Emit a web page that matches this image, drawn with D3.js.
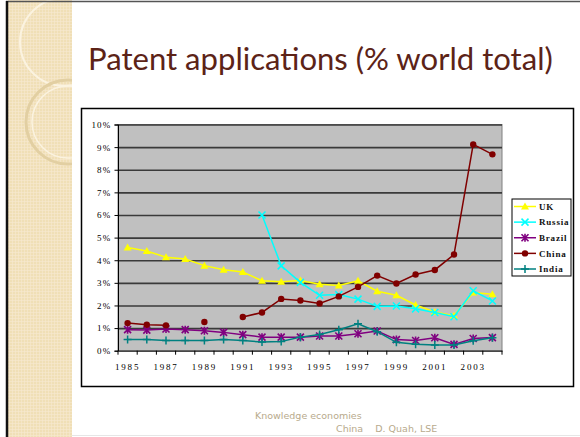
<!DOCTYPE html>
<html>
<head>
<meta charset="utf-8">
<script src="https://cdn.jsdelivr.net/npm/d3@7"></script>
<style>
  body { margin: 0; background: #fff; }
  svg { display: block; }
  .tick text { font-family: "Liberation Serif", "DejaVu Serif", serif; }
</style>
</head>
<body>
<div id="slide"></div>
<script>
// chart data (% of world total)
var years = [1985, 1986, 1987, 1988, 1989, 1990, 1991, 1992, 1993, 1994,
             1995, 1996, 1997, 1998, 1999, 2000, 2001, 2002, 2003, 2004];
var yearLabels = [1985, 1987, 1989, 1991, 1993, 1995, 1997, 1999, 2001, 2003];
var yTicks = [0, 1, 2, 3, 4, 5, 6, 7, 8, 9, 10];

var uk     = [4.56, 4.41, 4.13, 4.05, 3.76, 3.58, 3.48, 3.09, 3.05, 3.10, 2.94, 2.88, 3.09, 2.63, 2.45, 2.02, 1.71, 1.55, 2.57, 2.50];
var russia = [null, null, null, null, null, null, null, 6.00, 3.75, 3.02, 2.45, 2.48, 2.28, 1.96, 1.98, 1.85, 1.69, 1.50, 2.65, 2.20];
var brazil = [0.93, 0.91, 0.96, 0.93, 0.88, 0.81, 0.71, 0.60, 0.60, 0.60, 0.65, 0.65, 0.75, 0.87, 0.49, 0.45, 0.57, 0.28, 0.54, 0.58];
var china  = [1.22, 1.15, 1.12, null, 1.27, null, 1.49, 1.69, 2.29, 2.22, 2.09, 2.40, 2.82, 3.32, 2.97, 3.37, 3.57, 4.25, 9.12, 8.68];
var india  = [0.49, 0.49, 0.45, 0.45, 0.45, 0.49, 0.45, 0.38, 0.41, 0.60, 0.72, 0.93, 1.19, 0.84, 0.37, 0.29, 0.25, 0.25, 0.44, 0.57];

var seriesNames = ["UK", "Russia", "Brazil", "China", "India"];
var seriesValues = [uk, russia, brazil, china, india];

// look of each series
var seriesColor = {UK: "#ffff00", Russia: "#00ffff", Brazil: "#800080", China: "#800000", India: "#008080"};
var seriesShape = {UK: "triangle", Russia: "cross", Brazil: "star", China: "circle", India: "plus"};

var W = 580, H = 437;

var svg = d3.select("#slide")
  .append("svg")
    .attr("width", W)
    .attr("height", H);

// ---- slide decoration ----
var defs = svg.append("defs");
var pat = defs.append("pattern")
    .attr("id", "weave")
    .attr("width", 3).attr("height", 3)
    .attr("patternUnits", "userSpaceOnUse");
pat.append("rect").attr("width", 3).attr("height", 3).attr("fill", "#f0dfb6");
pat.append("path").attr("d", "M0 0.5H3M0.5 0V3").attr("stroke", "#f6ead0").attr("stroke-width", 0.6);

defs.append("clipPath").attr("id", "stripClip")
  .append("rect").attr("x", 8).attr("y", 0).attr("width", 64).attr("height", H);

svg.append("rect")
    .attr("x", 8).attr("y", 0).attr("width", 64).attr("height", H)
    .attr("fill", "url(#weave)");

var rings = svg.append("g").attr("clip-path", "url(#stripClip)").attr("fill", "none");
rings.append("circle").attr("cx", 64).attr("cy", 42).attr("r", 44).attr("stroke", "#fbf3e0").attr("stroke-width", 2);
rings.append("circle").attr("cx", 68).attr("cy", 122).attr("r", 42).attr("stroke", "#e2cfa2").attr("stroke-width", 3);
rings.append("circle").attr("cx", 68).attr("cy", 122).attr("r", 36).attr("stroke", "#fbf3e0").attr("stroke-width", 1.5);

svg.append("line").attr("x1", 6).attr("x2", W).attr("y1", 1.5).attr("y2", 1.5)
    .attr("stroke", "#555").attr("stroke-width", 1.5);
svg.append("line").attr("x1", 7).attr("x2", 7).attr("y1", 1).attr("y2", H)
    .attr("stroke", "#111").attr("stroke-width", 2.5);
svg.append("line").attr("x1", 72).attr("x2", W).attr("y1", 435.5).attr("y2", 435.5)
    .attr("stroke", "#e6e6e6").attr("stroke-width", 1);

// title, stretched to the width it has on the slide
var title = svg.append("text")
    .attr("x", 88).attr("y", 70)
    .attr("fill", "#5c2317")
    .style("font-family", "Lato, 'Open Sans', sans-serif")
    .style("font-size", "30px")
    .text("Patent applications (% world total)");
var tw = title.node().getComputedTextLength();
title.style("font-size", (30 * 465 / tw) + "px");

// footer
var foot = svg.append("g")
    .attr("fill", "#b8aa8c")
    .style("font-family", "'DejaVu Sans', Verdana, sans-serif")
    .style("font-size", "9.5px");
foot.append("text").attr("x", 255).attr("y", 419).text("Knowledge economies");
foot.append("text").attr("x", 336).attr("y", 432).attr("xml:space", "preserve").text("China    D. Quah, LSE");

// ---- chart box ----
svg.append("rect")
    .attr("x", 81.5).attr("y", 108.5).attr("width", 492).attr("height", 278)
    .attr("fill", "#fff").attr("stroke", "#000").attr("stroke-width", 1.5);

var plot = {left: 118, right: 502, top: 124.5, bottom: 350.7};

var x = d3.scaleBand()
    .domain(years)
    .range([plot.left, plot.right])
    .padding(0);

var y = d3.scaleLinear()
    .domain([0, 10])
    .range([plot.bottom, plot.top]);

svg.append("rect")
    .attr("x", plot.left).attr("y", plot.top)
    .attr("width", plot.right - plot.left).attr("height", plot.bottom - plot.top)
    .attr("fill", "#c0c0c0").attr("stroke", "#808080").attr("stroke-width", 1);

// gridlines
svg.append("g")
    .attr("transform", "translate(" + plot.left + ",0)")
    .call(d3.axisLeft(y).tickValues(yTicks.slice(1)).tickSize(-(plot.right - plot.left)).tickFormat(""))
    .call(function(g) {
      g.select(".domain").remove();
      g.selectAll(".tick line").attr("stroke", "#3a3a3a").attr("stroke-width", 1.6);
    });

// y axis
svg.append("g")
    .attr("transform", "translate(" + plot.left + ",0)")
    .call(d3.axisLeft(y).tickValues(yTicks).tickSize(3.5).tickPadding(3).tickFormat(function(d) { return d + "%"; }))
    .call(function(g) {
      g.select(".domain").attr("stroke", "#000");
      g.selectAll(".tick line").attr("stroke", "#000");
      g.selectAll(".tick text")
        .attr("fill", "#000")
        .style("font-size", "9px")
        .style("letter-spacing", "1.2px");
    });

// x axis: labels centred on the years, ticks on the boundaries
svg.append("g")
    .attr("transform", "translate(0," + plot.bottom + ")")
    .call(d3.axisBottom(x).tickValues(yearLabels).tickSize(0).tickPadding(13))
    .call(function(g) {
      g.select(".domain").attr("stroke", "#000");
      g.selectAll(".tick text")
        .attr("fill", "#000")
        .style("font-size", "9px")
        .style("letter-spacing", "1.8px");
    });

var edges = years.map(function(yr) { return x(yr); }).concat([x.range()[1]]);
svg.append("g").selectAll("line")
  .data(edges)
  .enter()
    .append("line")
    .attr("x1", function(d) { return d; })
    .attr("x2", function(d) { return d; })
    .attr("y1", plot.bottom)
    .attr("y2", plot.bottom + 4)
    .attr("stroke", "#000");

// marker drawing, shared with the legend
function drawMarker(g, shape, color) {
  if (shape == "triangle") {
    g.append("path").attr("d", "M0,-4L4,3L-4,3Z").attr("fill", color);
  } else if (shape == "circle") {
    g.append("circle").attr("r", 3.2).attr("fill", color);
  } else if (shape == "cross") {
    g.append("path").attr("d", "M-3.5,-3.5L3.5,3.5M-3.5,3.5L3.5,-3.5").attr("stroke", color).attr("stroke-width", 1.5);
  } else if (shape == "plus") {
    g.append("path").attr("d", "M-4,0H4M0,-4V4").attr("stroke", color).attr("stroke-width", 1.5);
  } else if (shape == "star") {
    g.append("path").attr("d", "M-3.5,-3.5L3.5,3.5M-3.5,3.5L3.5,-3.5M0,-4V4").attr("stroke", color).attr("stroke-width", 1.6);
  }
}

var line = d3.line()
    .defined(function(d) { return d.v != null; })
    .x(function(d) { return x(d.year) + x.bandwidth() / 2; })
    .y(function(d) { return y(d.v); });

// lines and markers, drawn in legend order
seriesNames.forEach(function(name, i) {
  var pts = years.map(function(yr, j) { return {year: yr, v: seriesValues[i][j]}; });
  var color = seriesColor[name];

  svg.append("path")
    .datum(pts)
    .attr("fill", "none")
    .attr("stroke", color)
    .attr("stroke-width", 1.5)
    .attr("d", line);

  svg.append("g").selectAll("g")
    .data(pts.filter(function(d) { return d.v != null; }))
    .enter()
      .append("g")
      .attr("transform", function(d) {
        return "translate(" + (x(d.year) + x.bandwidth() / 2) + "," + y(d.v) + ")";
      })
      .each(function() { drawMarker(d3.select(this), seriesShape[name], color); });
});

// legend
var legend = svg.append("g").attr("transform", "translate(512,199)");
legend.append("rect")
    .attr("width", 59).attr("height", 77)
    .attr("fill", "#fff").attr("stroke", "#000").attr("stroke-width", 1);

var rowY = d3.scalePoint().domain(seriesNames).range([7.5, 70]);

var rows = legend.selectAll("g.row")
  .data(seriesNames)
  .enter()
    .append("g")
    .attr("class", "row")
    .attr("transform", function(d) { return "translate(0," + rowY(d) + ")"; });

rows.append("line")
    .attr("x1", 2).attr("x2", 24)
    .attr("stroke", function(d) { return seriesColor[d]; })
    .attr("stroke-width", 1.5);
rows.append("g")
    .attr("transform", "translate(13,0)")
    .each(function(d) { drawMarker(d3.select(this), seriesShape[d], seriesColor[d]); });
rows.append("text")
    .attr("x", 27).attr("dy", "0.35em")
    .attr("fill", "#111")
    .style("font-family", "'Liberation Serif', 'DejaVu Serif', serif")
    .style("font-weight", "bold")
    .style("font-size", "9px")
    .style("letter-spacing", "0.8px")
    .text(function(d) { return d; });
</script>
</body>
</html>
